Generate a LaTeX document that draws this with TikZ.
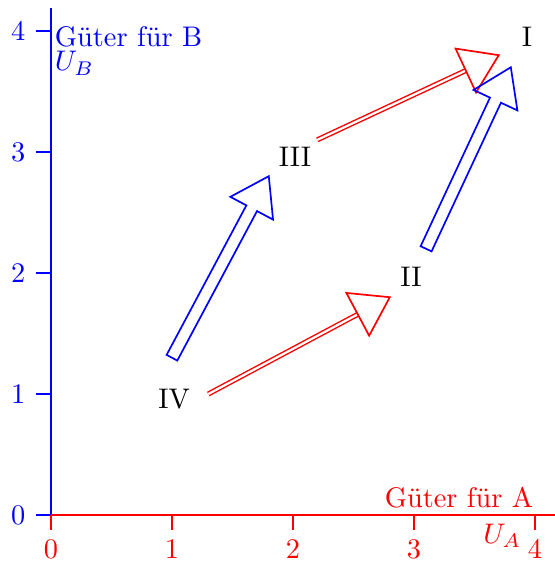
\documentclass[tikz,border=0pt]{standalone}
\usetikzlibrary{calc}
\tikzset{
  lbl/.style={inner sep=0pt, font=\normalsize},
  fatblue/.style={draw=blue, semithick, line join=miter},
  redhead/.style={draw=red, semithick, line join=miter},
  redshaft/.style={draw=red, double=white, double distance=0.8pt, line width=0.5pt},
}
\newcommand{\fatarr}[2]{%
  \coordinate (fa-s) at (#1);
  \coordinate (fa-e) at (#2);
  \coordinate (fa-b) at ($(fa-e)!0.45cm!(fa-s)$);
  \draw[fatblue] ($(fa-s)!0.075cm!90:(fa-e)$) -- ($(fa-b)!0.075cm!90:(fa-e)$)
    -- ($(fa-b)!0.3cm!90:(fa-e)$) -- (fa-e) -- ($(fa-b)!0.3cm!-90:(fa-e)$)
    -- ($(fa-b)!0.075cm!-90:(fa-e)$) -- ($(fa-s)!0.075cm!-90:(fa-e)$) -- cycle;}
\newcommand{\redarr}[2]{%
  \coordinate (ra-s) at (#1);
  \coordinate (ra-e) at (#2);
  \coordinate (ra-b) at ($(ra-e)!0.45cm!(ra-s)$);
  \draw[redshaft] (ra-s) -- (ra-b);
  \draw[redhead] ($(ra-b)!0.3cm!90:(ra-e)$) -- (ra-e) -- ($(ra-b)!0.3cm!-90:(ra-e)$) -- cycle;}
\begin{document}
\begin{tikzpicture}[x=1.5cm,y=1.5cm]
\useasboundingbox (-0.421,-0.388) rectangle (4.165,4.256);
% axes
\coordinate (O) at (0,0);
\coordinate (ytop) at (0,4.19);
\coordinate (xend) at (4.2,0);
\draw[blue, line width=0.4pt] (O) -- (ytop);
\draw[red, line width=0.4pt] (O) -- (xend);
\foreach \k in {0,...,4}{
  \draw[blue, line width=0.4pt] (-0.12,\k) -- (0,\k);
  \node[lbl, text=blue] (yl\k) at (-0.27,\k) {\k};
  \draw[red, line width=0.4pt] (\k,0) -- (\k,-0.12);
  \node[lbl, text=red] (xl\k) at (\k,-0.28) {\k};
}
\node[lbl, text=blue, anchor=base west] (gb) at (0.028,3.87) {Güter für B};
\node[lbl, text=blue, anchor=base west] (ub) at (0.028,3.67) {$U_B$};
\node[lbl, text=red, anchor=base east] (ga) at (3.99,0.066) {Güter für A};
\node[lbl, text=red, anchor=base east] (ua) at (3.89,-0.231) {$U_A$};
% labels
\node[lbl] (IV) at (1.017,0.959) {IV};
\node[lbl] (III) at (2.017,2.96) {III};
\node[lbl] (II) at (2.975,1.967) {II};
\node[lbl] (I) at (3.934,3.95) {I};
% arrows
\coordinate (a1s) at (1.0,1.3);  \coordinate (a1e) at (1.8,2.8);
\coordinate (a2s) at (3.1,2.2);  \coordinate (a2e) at (3.8,3.7);
\coordinate (a3s) at (1.3,1.0);  \coordinate (a3e) at (2.8,1.8);
\coordinate (a4s) at (2.2,3.1);  \coordinate (a4e) at (3.7,3.8);
\fatarr{a1s}{a1e}
\redarr{a3s}{a3e}
\redarr{a4s}{a4e}
\fatarr{a2s}{a2e}
\end{tikzpicture}
\end{document}
